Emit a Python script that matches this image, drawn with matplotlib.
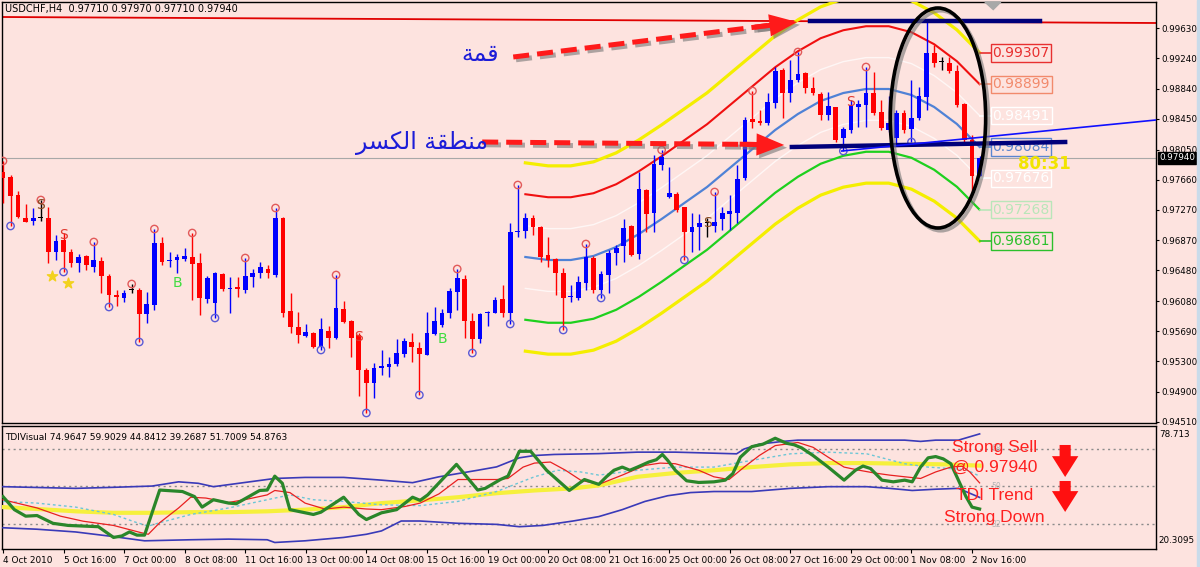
import numpy as np
import matplotlib.pyplot as plt
import matplotlib.patheffects as pe
from matplotlib.patches import Ellipse, Polygon, Rectangle

# USDCHF H4 bars, 4 Oct 2010 08:00 .. 2 Nov 2010 20:00
opens = [0.97758, 0.97693, 0.97459, 0.97160, 0.97121, 0.97160, 0.97160, 0.96718, 0.96874, 0.96718,
         0.96575, 0.96666, 0.96523, 0.96601, 0.96406, 0.96159, 0.96120, 0.96224, 0.96224, 0.95912,
         0.96029, 0.96835, 0.96601, 0.96614, 0.96627, 0.96653, 0.96575, 0.96107, 0.96055, 0.96432,
         0.96237, 0.96263, 0.96224, 0.96393, 0.96445, 0.96497, 0.96419, 0.97160, 0.95951, 0.95743,
         0.95626, 0.95665, 0.95483, 0.95691, 0.95600, 0.95977, 0.95821, 0.95639, 0.95184, 0.95015,
         0.95210, 0.95223, 0.95262, 0.95392, 0.95548, 0.95470, 0.95379, 0.95652, 0.95769, 0.95925,
         0.96198, 0.96367, 0.95821, 0.95587, 0.95925, 0.95925, 0.96107, 0.95925, 0.96978, 0.96991,
         0.97160, 0.97043, 0.96679, 0.96627, 0.96445, 0.96133, 0.96120, 0.96315, 0.96640, 0.96224,
         0.96419, 0.96705, 0.96796, 0.97056, 0.96692, 0.97524, 0.97225, 0.97849, 0.97433, 0.97472,
         0.97303, 0.96978, 0.97043, 0.97095, 0.97056, 0.97147, 0.97212, 0.97225, 0.97680, 0.98447,
         0.98421, 0.98395, 0.98655, 0.99084, 0.98785, 0.98954, 0.99045, 0.98850, 0.98772, 0.98499,
         0.98603, 0.98200, 0.98304, 0.98603, 0.98629, 0.98785, 0.98538, 0.98304, 0.98200, 0.98525,
         0.98317, 0.98460, 0.98733, 0.99305, 0.99188, 0.99175, 0.99071, 0.98642, 0.98174, 0.97710]
highs = [0.97901, 0.97719, 0.97511, 0.97342, 0.97290, 0.97394, 0.97303, 0.96939, 0.96965, 0.96757,
         0.96692, 0.96679, 0.96848, 0.96653, 0.96432, 0.96224, 0.96224, 0.96302, 0.96250, 0.96198,
         0.97017, 0.96913, 0.96718, 0.96692, 0.96770, 0.96965, 0.96705, 0.96406, 0.96458, 0.96445,
         0.96393, 0.96393, 0.96640, 0.96497, 0.96588, 0.96549, 0.97290, 0.97173, 0.96185, 0.95938,
         0.95782, 0.95678, 0.95860, 0.95756, 0.96419, 0.96081, 0.95834, 0.95665, 0.95210, 0.95275,
         0.95444, 0.95353, 0.95587, 0.95600, 0.95665, 0.95548, 0.95938, 0.96003, 0.95977, 0.96250,
         0.96497, 0.96419, 0.95925, 0.95925, 0.95951, 0.96133, 0.96289, 0.97095, 0.97589, 0.97225,
         0.97199, 0.97056, 0.96913, 0.96640, 0.96510, 0.96289, 0.96406, 0.96822, 0.96666, 0.96471,
         0.96744, 0.96809, 0.97147, 0.97069, 0.97758, 0.97537, 0.97979, 0.98044, 0.97823, 0.97498,
         0.97303, 0.97225, 0.97212, 0.97160, 0.97498, 0.97303, 0.97459, 0.97849, 0.98473, 0.98811,
         0.98564, 0.98785, 0.99123, 0.99110, 0.99214, 0.99318, 0.99058, 0.98993, 0.98798, 0.98798,
         0.98603, 0.98343, 0.98694, 0.98694, 0.99123, 0.99058, 0.98694, 0.98746, 0.98564, 0.98564,
         0.98954, 0.98863, 0.99708, 0.99409, 0.99253, 0.99253, 0.99149, 0.98655, 0.98239, 0.97970]
lows = [0.97355, 0.97056, 0.97160, 0.97108, 0.97069, 0.97121, 0.96575, 0.96614, 0.96458, 0.96523,
        0.96458, 0.96484, 0.96458, 0.96185, 0.96003, 0.96016, 0.96068, 0.96185, 0.95548, 0.95795,
        0.95964, 0.96549, 0.96523, 0.96445, 0.96601, 0.96094, 0.95899, 0.96055, 0.95860, 0.96211,
        0.95925, 0.96133, 0.96185, 0.96263, 0.96380, 0.96380, 0.96393, 0.95873, 0.95665, 0.95535,
        0.95613, 0.95470, 0.95444, 0.95470, 0.95587, 0.95795, 0.95353, 0.94846, 0.94625, 0.94820,
        0.95119, 0.95093, 0.95236, 0.95353, 0.95288, 0.94859, 0.95379, 0.95639, 0.95743, 0.95860,
        0.95964, 0.95600, 0.95405, 0.95535, 0.95756, 0.95925, 0.95873, 0.95782, 0.96913, 0.96900,
        0.96939, 0.96588, 0.96523, 0.96159, 0.95704, 0.96068, 0.96094, 0.96224, 0.96185, 0.96120,
        0.96185, 0.96549, 0.96588, 0.96666, 0.96627, 0.96978, 0.96978, 0.97784, 0.97420, 0.97238,
        0.96614, 0.96718, 0.96744, 0.96913, 0.96978, 0.97004, 0.97004, 0.97095, 0.97654, 0.98330,
        0.98369, 0.98369, 0.98590, 0.98460, 0.98668, 0.98928, 0.98785, 0.98759, 0.98434, 0.98434,
        0.98148, 0.98031, 0.98265, 0.98343, 0.98343, 0.98499, 0.98304, 0.98278, 0.98135, 0.98265,
        0.98148, 0.98434, 0.98564, 0.99123, 0.99084, 0.99045, 0.98603, 0.98148, 0.97498, 0.97710]
closes = [0.97680, 0.97446, 0.97173, 0.97108, 0.97160, 0.97160, 0.96718, 0.96861, 0.96718, 0.96575,
          0.96653, 0.96549, 0.96614, 0.96406, 0.96159, 0.96133, 0.96185, 0.96224, 0.95912, 0.96042,
          0.96835, 0.96588, 0.96614, 0.96653, 0.96666, 0.96562, 0.96120, 0.96380, 0.96445, 0.96237,
          0.96250, 0.96237, 0.96406, 0.96445, 0.96523, 0.96445, 0.97160, 0.95925, 0.95743, 0.95639,
          0.95678, 0.95483, 0.95717, 0.95600, 0.95990, 0.95808, 0.95600, 0.95184, 0.95015, 0.95210,
          0.95236, 0.95262, 0.95405, 0.95561, 0.95483, 0.95392, 0.95665, 0.95821, 0.95925, 0.96211,
          0.96380, 0.95821, 0.95587, 0.95912, 0.95938, 0.96094, 0.95925, 0.96978, 0.96991, 0.97160,
          0.97043, 0.96653, 0.96614, 0.96445, 0.96120, 0.96146, 0.96328, 0.96653, 0.96224, 0.96432,
          0.96705, 0.96770, 0.97030, 0.96679, 0.97537, 0.97212, 0.97862, 0.97953, 0.97485, 0.97264,
          0.96978, 0.97043, 0.97095, 0.97095, 0.97108, 0.97225, 0.97251, 0.97667, 0.98434, 0.98408,
          0.98395, 0.98668, 0.99071, 0.98785, 0.98954, 0.99032, 0.98850, 0.98785, 0.98499, 0.98616,
          0.98174, 0.98317, 0.98629, 0.98642, 0.98785, 0.98525, 0.98330, 0.98395, 0.98525, 0.98304,
          0.98460, 0.98746, 0.99305, 0.99175, 0.99188, 0.99071, 0.98629, 0.98174, 0.97710, 0.97940]

dates = ['4 Oct 2010', '5 Oct 16:00', '7 Oct 00:00', '8 Oct 08:00', '11 Oct 16:00',
         '13 Oct 00:00', '14 Oct 08:00', '15 Oct 16:00', '19 Oct 00:00', '20 Oct 08:00',
         '21 Oct 16:00', '25 Oct 00:00', '26 Oct 08:00', '27 Oct 16:00', '29 Oct 00:00',
         '1 Nov 08:00', '2 Nov 16:00']
date_bars = [0, 8, 16, 24, 32, 40, 48, 56, 64, 72, 80, 88, 96, 104, 112, 120, 128]
price_ticks = [0.99630, 0.99240, 0.98840, 0.98450, 0.98050, 0.97660, 0.97270, 0.96870,
               0.96480, 0.96080, 0.95690, 0.95300, 0.94900, 0.94510]

# regression channel: centre line (every 3 bars), other lines sit k steps away
chan_bars = [69, 72, 75, 78, 81, 84, 87, 90, 93, 96, 99, 102, 105, 108, 111, 114, 117, 120, 123, 126, 129]
chan_mid = [0.96653, 0.96614, 0.96614, 0.96666, 0.96783, 0.96952, 0.97147, 0.97355, 0.97563, 0.97810,
            0.98057, 0.98304, 0.98512, 0.98681, 0.98785, 0.98837, 0.98837, 0.98759, 0.98603, 0.98382, 0.98084]
chan_step = 0.00408
chan_values = [0.99307, 0.98899, 0.98491, 0.98084, 0.97676, 0.97268, 0.96861]

up_fractals = [0, 5, 12, 17, 20, 25, 32, 36, 44, 60, 68, 77, 87, 94, 99, 105, 114]
down_fractals = [1, 8, 14, 18, 28, 42, 48, 55, 62, 67, 74, 79, 90, 111, 120]

sig_bars = [5, 8, 47, 93, 112, 23, 58]
sig_prices = [0.97329, 0.96939, 0.95617, 0.97095, 0.98668, 0.96319, 0.95583]
sig_text = ['S', 'S', 'S', 'S', 'S', 'B', 'B']
star_bars = [6.5, 8.6]
star_prices = [0.96406, 0.96315]

# TDI sub-window
tdi_green_x = [0, 1.5, 3.0, 4.5, 6.6, 8.6, 12.6, 14.6, 15.7, 16.7, 17.7, 18.7, 20.7, 23.7, 25.3, 26.3,
               27.8, 29.8, 30.8, 33.9, 34.9, 35.9, 36.9, 37.9, 41.0, 42.0, 45.0, 47.0, 48.0, 50.0,
               52.0, 54.1, 55.1, 56.1, 59.9, 62.7, 63.7, 65.7, 66.7, 68.2, 69.7, 71.8, 74.8, 76.8,
               78.7, 79.7, 80.7, 81.8, 82.8, 83.8, 85.3, 86.3, 87.1, 87.8, 88.8, 90.3, 91.9, 93.9,
               95.4, 96.4, 97.4, 98.9, 100.4, 102.0, 103.5, 104.5, 105.5, 107.0, 109.0, 111.1,
               112.6, 113.6, 114.6, 116.1, 117.6, 119.1, 120.1, 121.2, 122.2, 123.2, 124.2, 125.2,
               126.2, 127.2, 128.0, 129.0]
tdi_green = [45.2, 39.0, 35.9, 36.2, 32.5, 31.5, 30.9, 25.8, 26.5, 28.4, 26.9, 26.9, 48.3, 47.6, 45.2,
             40.2, 43.7, 42.1, 41.8, 48.1, 48.3, 54.9, 51.5, 39.0, 36.7, 37.8, 44.9, 36.7, 34.3, 37.5,
             39.0, 44.9, 43.4, 46.0, 60.5, 48.3, 49.1, 53.3, 54.9, 66.7, 66.7, 57.7, 48.1, 53.3,
             51.0, 54.6, 57.7, 59.2, 57.7, 59.2, 61.6, 62.7, 65.2, 62.4, 57.7, 52.7, 51.9, 52.2,
             53.0, 56.1, 63.9, 68.9, 70.1, 72.9, 70.5, 69.8, 68.3, 64.7, 59.2, 53.0, 57.7, 59.7,
             58.5, 53.0, 52.2, 53.0, 52.2, 59.2, 63.6, 64.2, 63.1, 60.8, 53.0, 45.2, 40.2, 39.3]
tdi_red_x = [0, 4.5, 7.6, 10.6, 14.6, 18.2, 19.2, 20.7, 23.2, 24.8, 26.8, 29.8, 32.3, 34.9, 35.9, 37.9,
             39.9, 42.5, 45.0, 48.0, 50.0, 53.1, 55.1, 57.6, 60.1, 63.2, 65.2, 66.7, 68.7, 70.2, 72.3,
             74.3, 76.3, 78.7, 81.8, 84.8, 86.8, 88.8, 91.9, 93.9, 95.9, 97.9, 99.9, 102.0, 105.0,
             107.0, 109.0, 111.1, 113.1, 115.1, 117.1, 119.1, 121.2, 123.2, 125.2, 126.7, 127.7, 129.0]
tdi_red = [43.7, 39.8, 35.9, 33.5, 31.5, 28.1, 27.3, 32.8, 39.8, 44.9, 44.5, 42.4, 44.0, 46.0, 48.1, 47.1,
           42.1, 39.3, 40.2, 39.3, 39.0, 40.5, 42.1, 46.5, 53.3, 53.3, 53.3, 53.8, 59.2, 61.1, 61.6,
           57.7, 53.0, 51.0, 55.4, 60.0, 61.1, 60.8, 57.7, 54.6, 53.3, 59.2, 64.7, 69.4, 70.9,
           68.6, 63.9, 59.2, 57.7, 56.4, 55.4, 54.6, 53.8, 56.9, 59.2, 59.6, 56.9, 51.7]
tdi_yellow_x = [0, 4.5, 9.6, 14.6, 19.7, 24.8, 29.8, 34.9, 39.9, 45.0, 50.0, 55.1, 60.1, 65.2, 70.2,
                75.3, 78.7, 83.8, 88.8, 93.9, 98.9, 104.0, 109.0, 114.1, 119.1, 124.2, 129.0]
tdi_yellow = [40.2, 39.3, 38.2, 37.5, 37.5, 37.8, 37.8, 38.2, 39.0, 40.2, 42.1, 43.4, 44.9, 46.8, 48.1,
              49.1, 50.5, 54.6, 56.4, 57.7, 59.2, 60.5, 61.1, 61.1, 60.8, 60.5, 59.9]
tdi_cyan_x = [0, 4.5, 9.6, 14.6, 17.7, 19.2, 20.7, 24.8, 29.8, 34.9, 37.9, 41.0, 45.0, 50.0, 55.1, 60.1,
              65.2, 70.2, 73.3, 76.3, 78.7, 83.8, 88.8, 93.9, 98.9, 104.0, 109.0, 114.1, 119.1, 122.2,
              125.2, 127.2, 129.0]
tdi_cyan = [42.9, 42.1, 40.2, 36.7, 32.8, 31.2, 32.8, 36.7, 39.8, 43.7, 46.0, 43.7, 42.9, 41.3, 40.9, 42.9,
            47.6, 54.6, 57.7, 56.9, 55.4, 57.7, 59.2, 59.2, 62.4, 65.5, 66.3, 65.5, 60.8, 59.2,
            58.5, 58.0, 54.9]
tdi_up_x = [0, 9.6, 14.6, 19.7, 23.2, 25.8, 27.8, 35.9, 39.9, 45.0, 50.0, 54.1, 57.6, 62.7, 65.2, 68.2,
            70.2, 72.8, 78.7, 83.8, 88.8, 93.9, 96.9, 97.9, 99.9, 103.0, 105.0, 109.0, 114.1, 119.1,
            121.2, 123.2, 126.2, 129.0]
tdi_up = [49.9, 49.1, 49.6, 50.2, 52.2, 51.5, 49.9, 53.8, 54.3, 54.3, 53.0, 51.8, 54.6, 57.7, 59.3, 63.6,
          64.7, 65.2, 65.6, 66.3, 66.3, 65.8, 65.5, 67.8, 70.1, 71.4, 72.0, 72.0, 72.0, 72.0,
          71.4, 72.0, 72.0, 74.96]
tdi_lo_x = [0, 4.5, 9.6, 14.6, 18.7, 24.8, 29.8, 34.9, 35.9, 39.9, 45.0, 48.0, 50.0, 52.6, 55.1, 60.1,
            65.2, 68.2, 71.3, 75.3, 78.7, 81.8, 84.8, 87.8, 90.8, 93.9, 98.9, 104.0, 109.0, 114.1,
            117.1, 120.1, 123.2, 126.2, 129.0]
tdi_lo = [30.4, 29.7, 28.4, 26.2, 24.2, 24.7, 25.0, 24.7, 23.4, 24.2, 25.8, 27.3, 28.9, 33.6, 33.6, 32.5,
          32.0, 30.9, 31.5, 33.6, 35.7, 39.0, 42.9, 45.6, 47.1, 47.6, 47.6, 49.1, 49.9, 49.9,
          49.1, 48.1, 48.7, 49.1, 44.8]
tdi_levels = [68, 50, 32]

bg = '#fde3df'
fig = plt.figure(figsize=(12, 5.67), dpi=100, facecolor=bg)
ax = fig.add_axes([2 / 1200, 1 - 423 / 567, 1154 / 1200, 421 / 567], facecolor=bg)
ax2 = fig.add_axes([2 / 1200, 1 - 549 / 567, 1154 / 1200, 123 / 567], facecolor=bg)
fig.patches.append(Rectangle((1197 / 1200, 0), 3 / 1200, 1, transform=fig.transFigure,
                             color='#c9dbea', zorder=0))
xmax = 152.3
ax.set_xlim(-0.13, xmax)
ax.set_ylim(0.94495, 0.99968)
ax2.set_xlim(-0.13, xmax)
ax2.set_ylim(20.3095, 78.713)

# ---------------- main window ----------------
ax.plot([-0.13, xmax], [0.99773, 0.99695], color='#e00000', lw=1.3, zorder=2)
ax.axhline(closes[-1], color='#a8a8a8', lw=0.8, zorder=1)

cb = np.array(chan_bars)
cm = np.array(chan_mid)
chan_style = [(3, '#f4ee00', 2.3, 1), (2, '#f01010', 1.5, 1), (1, 'white', 1.0, 0.7),
              (0, '#4f82d6', 1.6, 1), (-1, 'white', 1.0, 0.7), (-2, '#1ed01e', 1.6, 1),
              (-3, '#f4ee00', 2.3, 1)]
for k, col, lw, a in chan_style:
    ax.plot(cb, cm + k * chan_step, color=col, lw=lw, alpha=a, zorder=3,
            solid_joinstyle='round')

lab_cols = ['#e83030', '#f28a6c', 'white', '#5a86d0', 'white', '#b9e6b9', '#2cc02c']
for v, col in zip(chan_values, lab_cols):
    ax.plot([129, 130.5], [v, v], color=col, lw=1.2, zorder=3)
    ax.text(130.7, v, f'{v:.5f}', color=col, fontsize=10, va='center', ha='left', zorder=6,
            bbox=dict(boxstyle='square,pad=0.12', fc='none', ec=col, lw=1))

x = np.arange(len(opens))
o, h, l, c = (np.array(a) for a in (opens, highs, lows, closes))
cols = ['black' if abs(cc - oo) < 0.00005 else ('#0000ff' if cc > oo else '#ff0000')
        for oo, cc in zip(o, c)]
ax.vlines(x, l, h, colors=cols, lw=1.0, zorder=4)
ax.bar(x, np.maximum(np.abs(c - o), 0.00012), bottom=np.minimum(o, c), width=0.62,
       color=cols, zorder=5)

ax.scatter(up_fractals, h[up_fractals], s=28, facecolors='none', edgecolors='#e25a5a', lw=1, zorder=6)
ax.scatter(down_fractals, l[down_fractals], s=28, facecolors='none', edgecolors='#5a5ad6', lw=1, zorder=6)
sig_cols = {'S': '#e03a30', 'B': '#40dc40'}
for b, p, t in zip(sig_bars, sig_prices, sig_text):
    col = '#8a4a20' if b in (5, 93) else sig_cols[t]
    ax.text(b, p, t, color=col, fontsize=10, ha='center', va='center', zorder=7)
ax.scatter(star_bars, star_prices, marker='*', s=60, color='#f2d21e', zorder=7)

# hand-drawn analysis
navy = '#00007a'
ax.plot([106.6, 137.0], [0.99718, 0.99718], color=navy, lw=3.2, zorder=8)
ax.plot([104.2, 140.3], [0.98083, 0.98148], color=navy, lw=3.2, zorder=8)
ax.plot([110.8, xmax], [0.98031, 0.98434], color='#1010ff', lw=1.2, zorder=8)

shadow = [pe.SimpleLineShadow(offset=(2, -2), shadow_color='#777777', alpha=0.6), pe.Normal()]
arrows = [((67.4, 0.99253), (101.3, 0.99665), (104.9, 0.99708)),
          ((63.3, 0.98148), (99.3, 0.98116), (103.2, 0.98109))]
for tail, base, tip in arrows:
    ax.plot([tail[0], base[0]], [tail[1], base[1]], color='#ff1a1a', lw=3.6, dashes=(3.2, 1.6),
            solid_capstyle='butt', dash_capstyle='butt', path_effects=shadow, zorder=9)
    back = (base[0] - 2, base[1] - (tip[1] - base[1]) * 2 / (tip[0] - base[0]))
    ann = ax.annotate('', xy=tip, xytext=back, zorder=9,
                      arrowprops=dict(arrowstyle='simple,head_length=1.0,head_width=0.8,tail_width=0.18',
                                      mutation_scale=20, fc='#ff1a1a', ec='none',
                                      shrinkA=0, shrinkB=0))
    ann.arrow_patch.set_path_effects([pe.SimplePatchShadow(offset=(2, -2), shadow_rgbFace='#777777',
                                                           alpha=0.6), pe.Normal()])

ell = Ellipse((123.5, 0.98460), width=12.6, height=0.0286, fill=False, ec='black', lw=2.6, zorder=10,
              path_effects=[pe.SimpleLineShadow(offset=(2, -2), shadow_color='#777777', alpha=0.6),
                            pe.Normal()])
ax.add_patch(ell)

# Arabic labels (joined presentation forms in display order): "قمة" and "منطقة الكسر"
ax.text(63.0, 0.99292, '\ufe94\ufee4\ufed7', color='#1c1cd8', fontsize=17,
        ha='center', va='center', family='DejaVu Sans', zorder=9)
ax.text(55.3, 0.98135, '\ufeae\ufeb4\ufedc\ufedf\ufe8d \ufe94\ufed8\ufec4\ufee8\ufee3', color='#1c1cd8',
        fontsize=17, ha='center', va='center', family='DejaVu Sans', zorder=9)

ax.text(137.6, 0.97862, '80:31', color='#f2e400', fontsize=12, fontweight='bold',
        ha='center', va='center', zorder=9)
ax.add_patch(Polygon([[129.7, 0.99968], [131.8, 0.99968], [130.8, 0.99870]], closed=True,
                     color='#a8a8a8', zorder=9, clip_on=False))

ax.text(0.003, 0.984, 'USDCHF,H4  0.97710 0.97970 0.97710 0.97940', transform=ax.transAxes,
        fontsize=7, va='center', ha='left')

ax.yaxis.tick_right()
ax.set_yticks(price_ticks)
ax.set_yticklabels([f'{p:.5f}' for p in price_ticks])
ax.tick_params(axis='y', labelsize=6.3, length=2.5, width=0.8, pad=1.5)
ax.set_xticks([])
ax.text(1.0025, closes[-1], f'{closes[-1]:.5f}', transform=ax.get_yaxis_transform(), fontsize=6.3,
        color='white', va='center', ha='left',
        bbox=dict(boxstyle='square,pad=0.12', fc='black', ec='black'))

# ---------------- TDI window ----------------
for lv in tdi_levels:
    ax2.axhline(lv, color='#8c8c8c', lw=1, ls=(0, (1.5, 2.5)), zorder=1)
    ax2.text(130.6, lv, str(lv), color='#b4b4b4', fontsize=5.5, va='center', zorder=2)
ax2.plot(tdi_up_x, tdi_up, color='#3a3ab8', lw=1.2, zorder=3)
ax2.plot(tdi_lo_x, tdi_lo, color='#3a3ab8', lw=1.2, zorder=3)
ax2.plot(tdi_yellow_x, tdi_yellow, color='#f6f03c', lw=3, zorder=3)
ax2.plot(tdi_cyan_x, tdi_cyan, color='#6cc6d6', lw=1, ls=(0, (2, 2)), zorder=4)
ax2.plot(tdi_red_x, tdi_red, color='#e82020', lw=0.9, zorder=5)
ax2.plot(tdi_green_x, tdi_green, color='#2a862a', lw=2.3, zorder=6)

for txt, v in [('Strong Sell', 68.3), ('@ 0.97940', 59.2), ('TDI Trend', 45.9), ('Strong Down', 35.5)]:
    ax2.text(131.0, v, txt, color='#ff2020', fontsize=12.5, ha='center', va='center',
             family='Liberation Sans', zorder=8)
for top, bot in [(69.7, 54.5), (52.6, 37.9)]:
    ax2.annotate('', xy=(140.3, bot), xytext=(140.3, top), zorder=8,
                 arrowprops=dict(arrowstyle='simple,head_length=0.75,head_width=0.95,tail_width=0.4',
                                 mutation_scale=20, fc='#ff1010', ec='none', shrinkA=0, shrinkB=0))

ax2.text(0.003, 0.91, 'TDIVisual 74.9647 59.9029 44.8412 39.2687 51.7009 54.8763',
         transform=ax2.transAxes, fontsize=6.5, va='center', ha='left')
ax2.text(1.0025, 0.97, '78.713', transform=ax2.transAxes, fontsize=6.3, va='top', ha='left')
ax2.text(1.0025, 0.03, '20.3095', transform=ax2.transAxes, fontsize=6.3, va='bottom', ha='left')
ax2.set_yticks([])
ax2.set_xticks(date_bars)
ax2.set_xticklabels(dates, fontsize=6.4, ha='left')
ax2.tick_params(axis='x', length=3, pad=2, width=0.8)

for a in (ax, ax2):
    for s in a.spines.values():
        s.set_color('black')
        s.set_linewidth(1)

fig.savefig('out.png', dpi=100, facecolor=bg)
